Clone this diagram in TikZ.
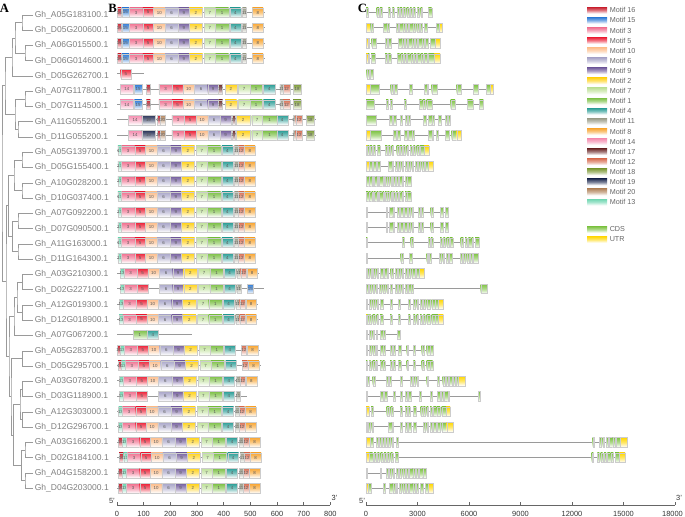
\documentclass[tikz,border=0pt]{standalone}
\usepackage{fontspec}
\setmainfont{Liberation Sans}
\newfontfamily\serifbf{Liberation Serif}
\usetikzlibrary{calc}
\definecolor{m16}{HTML}{C8202F}
\definecolor{m15}{HTML}{2E7BD6}
\definecolor{m3}{HTML}{F0708F}
\definecolor{m5}{HTML}{EC2238}
\definecolor{m10}{HTML}{FDBE8C}
\definecolor{m6}{HTML}{A9A6C9}
\definecolor{m9}{HTML}{76609F}
\definecolor{m2}{HTML}{FFD21A}
\definecolor{m7}{HTML}{BFE19A}
\definecolor{m1}{HTML}{7CC045}
\definecolor{m4}{HTML}{2A9D96}
\definecolor{m11}{HTML}{9B9C88}
\definecolor{m8}{HTML}{F8A531}
\definecolor{m14}{HTML}{F48CAF}
\definecolor{m17}{HTML}{6E2B2B}
\definecolor{m12}{HTML}{D87055}
\definecolor{m18}{HTML}{7F9C3B}
\definecolor{m19}{HTML}{283358}
\definecolor{m20}{HTML}{B58962}
\definecolor{m13}{HTML}{6ED6B0}
\definecolor{gc}{HTML}{7DC242}
\definecolor{gu}{HTML}{FFD700}
\definecolor{labgray}{HTML}{808080}
\definecolor{linegray}{HTML}{9A9A9A}
\tikzset{
  tree/.style={draw=linegray, line width=0.6pt},
  bb/.style={draw=linegray, line width=0.7pt},
  boxb/.style={draw=black!20, line width=0.25pt},
  glab/.style={anchor=west, inner sep=0pt, text=labgray, font=\fontsize{6.4}{7}\selectfont},
  mnum/.style={inner sep=0pt, text=black!65, font=\fontsize{3.3}{3.5}\selectfont},
  plet/.style={inner sep=0pt, font=\serifbf\bfseries\fontsize{9.5}{10}\selectfont},
  tick/.style={inner sep=0pt, text=black!80, font=\fontsize{5.6}{6}\selectfont},
  legt/.style={anchor=west, inner sep=0pt, text=black!60, font=\fontsize{5.4}{6}\selectfont},
  axl/.style={draw=black!60, line width=0.5pt}
}
\newcount\nc
\newcommand\mot[4]{%
  \pgfmathsetmacro\yy{12.5+15.35*((#1)-1)}%
  \pgfmathsetmacro\xa{117+0.2667*(#3)}%
  \pgfmathsetmacro\xb{117+0.2667*(#4)}%
  \shade[top color=m#2, bottom color=white, middle color=m#2!60] (\xa,{\yy-4.8}) rectangle (\xb,{\yy+4.8});
  \draw[boxb] (\xa,{\yy-4.8}) rectangle (\xb,{\yy+4.8});
  \global\advance\nc by 1
  \node[mnum] (t\the\nc) at ({(\xa+\xb)/2},\yy) {#2};
}
\newcommand\mrow[4]{%
  \pgfmathsetmacro\yy{12.5+15.35*((#1)-1)}%
  \draw[bb] (117,\yy) -- ({117+0.2667*(#3)},\yy);
  \foreach \mA/\mB/\mC in #4 {\mot{#1}{\mA}{\mB+#2}{\mC+#2}}%
}
\newcommand\exn[3]{%
  \pgfmathsetmacro\xa{360+(#2)/3}%
  \pgfmathsetmacro\xb{360+(#3)/3}%
  \shade[top color=#1, bottom color=white, middle color=#1!60] (\xa,{\yy-4.8}) rectangle (\xb,{\yy+4.8});
  \draw[boxb] (\xa,{\yy-4.8}) rectangle (\xb,{\yy+4.8});
}
\newcommand\grw[3]{%
  \pgfmathsetmacro\yy{12.5+15.35*((#1)-1)}%
  \draw[bb] (366,\yy) -- ({360+(#2)/3},\yy);
  \foreach \eT/\eA/\eB in #3 {\exn{g\eT}{\eA}{\eB}}%
}
\newcommand\tj[4]{%
  \path ($(#3)!0.5!(#4)$) coordinate (#1mid);
  \coordinate (#1) at (#2,0 |- #1mid);
  \draw[tree] (#3) -| (#1) |- (#4);
}
% motif lists
\def\stdl{13/3/17,3/17/67,5/67/107,10/107/150,6/150/200,9/200/241,2/241/291,7/297/339,1/339/389,4/393/434,11/440/455,12/455/476,8/478/518}
\def\stdn{16/-10/3,13/3/17,3/17/67,5/67/107,10/107/150,6/150/200,9/200/241,2/241/291,7/297/339,1/339/389,4/393/434,12/455/476,8/478/518}
\def\stdp{16/-14/3,13/3/17,3/17/67,5/67/107,10/107/150,6/150/200,9/200/241,2/241/291,7/297/339,1/339/389,4/393/434,11/440/455,12/455/476,8/478/518}
\def\rA{16/2/16,15/18/45,3/47/97,5/97/137,10/137/180,6/180/230,9/230/271,2/271/321,7/327/369,1/369/419,4/423/464,11/470/485,8/508/548}
\def\rB{5/14/52}
\def\rC{14/12/62,15/65/93,16/110/125,3/157/207,5/207/247,10/247/290,6/290/340,9/340/381,17/381/396,2/405/449,7/455/499,1/499/545,4/549/593,11/611/623,12/623/648,18/660/690}
\def\rD{14/43/93,19/93/143,16/150/163,20/163/180,3/206/252,5/252/297,10/297/341,6/341/387,9/387/428,17/432/444,2/448/498,7/505/545,1/545/599,4/599/640,11/661/670,12/670/695,18/710/739}
\def\rE{13/3/17,3/17/67,5/67/107,6/150/200,9/200/241,2/241/291,7/297/339,1/339/389,4/393/434,11/440/455,15/479/503}
\def\rF{1/60/112,4/112/156}
\def\rH{13/3/17,3/17/67,5/67/107,6/150/200,9/200/241,2/241/291,7/297/339,1/339/389,4/393/434,11/440/455}
% gene lists
\def\gA{c/18/24,c/50/57,c/60/67,c/85/90,c/97/102,c/112/118,c/120/126,c/130/136,c/140/146,c/150/155,c/160/165,c/172/177,c/182/187,c/205/215}
\def\gB{u/18/32,c/32/40,c/70/78,c/80/88,c/108/115,c/118/125,c/128/135,c/138/145,c/148/155,c/158/165,c/170/177,c/180/187,c/192/200,c/228/238,u/238/245}
\def\gC{u/18/24,c/24/28,c/35/48,c/75/82,c/85/92,c/115/122,c/125/132,c/135/142,c/145/152,c/155/162,c/165/172,c/175/182,c/185/192,c/195/205,c/210/225,u/225/240}
\def\gD{u/18/24,c/24/28,c/33/45,c/75/82,c/85/92,c/112/119,c/122/129,c/132/139,c/142/149,c/152/159,c/162/169,c/172/179,c/182/189,c/192/202,c/205/222,u/222/240}
\def\gE{c/20/28,c/30/40}
\def\gF{u/18/30,c/30/58,c/92/98,c/102/110,c/148/155,c/192/198,c/200/205,c/215/232,c/290/302,c/340/355,c/378/390,u/390/400}
\def\gG{c/18/42,c/78/85,c/90/97,c/132/138,c/178/185,c/188/195,c/200/215,c/272/285,c/322/338,c/358/370}
\def\gH{c/18/48,c/88/95,c/100/107,c/120/126,c/135/140,c/145/150,c/190/198,c/205/212,c/215/222,c/235/242,c/255/262,c/265/270}
\def\gI{u/18/30,c/30/62,c/100/108,c/112/120,c/133/140,c/145/152,c/155/162,c/205/212,c/215/220,c/228/235,c/255/268,c/275/290,u/290/303}
\def\gJ{u/18/22,c/22/28,c/30/36,c/40/46,c/52/60,c/75/82,c/85/90,c/95/100,c/110/118,c/120/126,c/130/135,c/140/145,c/150/155,c/160/165,c/170/178,c/180/192,u/192/207}
\def\gK{u/18/28,c/28/35,c/40/48,c/52/60,c/85/92,c/95/100,c/105/110,c/115/120,c/125/130,c/135/140,c/145/150,c/155/160,c/165/170,c/175/180,c/185/192,c/195/205,u/205/220}
\def\gL{c/18/24,c/26/32,c/35/40,c/42/47,c/50/55,c/58/65,c/68/72,c/75/80,c/82/88,c/92/97,c/100/104,c/108/113,c/118/122,c/125/130,c/135/140,c/142/152}
\def\gM{c/18/22,c/78/82,c/88/95,c/98/103,c/112/118,c/120/130,c/133/140,c/145/150,c/155/160,c/175/180,c/183/188,c/212/218,c/240/250,c/255/265}
\def\gN{c/18/22,c/127/133,c/152/160,c/205/210,c/213/218,c/240/245,c/250/255,c/260/268,c/270/278,c/302/310,c/315/320,c/325/332,c/335/340,c/345/358}
\def\gO{c/18/22,c/122/128,c/148/155,c/200/205,c/208/213,c/237/243,c/248/253,c/258/265,c/268/275,c/300/306,c/310/316,c/320/326,c/330/336,c/340/353}
\def\gP{u/18/22,c/22/28,c/32/36,c/40/45,c/50/55,c/60/68,c/72/78,c/80/85,c/92/98,c/105/110,c/115/120,c/125/130,c/135/142,c/145/150,c/155/165,c/168/178,u/178/192}
\def\gQ{c/18/24,c/28/33,c/38/43,c/47/52,c/57/62,c/68/75,c/80/85,c/90/95,c/105/110,c/115/120,c/125/130,c/135/140,c/145/150,c/152/158,c/362/382}
\def\gR{c/18/22,c/28/32,c/38/45,c/50/55,c/60/68,c/90/95,c/115/120,c/145/150,c/160/165,c/170/175,c/180/185,c/190/195,c/200/210,c/215/225,c/225/235,u/235/250}
\def\gS{u/18/22,c/22/26,c/28/32,c/38/45,c/50/55,c/60/68,c/90/95,c/115/120,c/145/150,c/160/165,c/170/175,c/180/185,c/190/195,c/200/210,c/215/225,c/225/235,u/235/250}
\def\gT{c/18/22,c/28/32,c/38/42,c/48/52,c/60/65,c/68/74,c/112/120}
\def\gU{c/18/22,c/28/32,c/38/45,c/48/52,c/60/65,c/68/74,c/90/95,c/100/106,c/115/122,c/140/145,c/160/165,c/185/192,c/200/210,c/210/218}
\def\gV{u/18/22,c/22/26,c/38/45,c/78/84,c/88/94,c/120/126,c/150/155,c/160/165,c/170/175,c/200/205,c/232/238,c/248/255,c/258/265,c/268/275,c/280/285,c/288/295,u/295/315}
\def\gW{c/18/22,c/60/68,c/72/80,c/100/106,c/120/126,c/135/142,c/145/152,c/178/184,c/210/216,c/232/240,c/243/250,c/253/260,c/263/268,c/355/360}
\def\gX{u/18/28,c/33/40,c/80/88,c/92/98,c/120/126,c/135/142,c/145/150,c/160/168,c/182/188,c/190/196,c/200/205,c/210/215,c/220/228,c/230/240,c/245/258,u/258/270}
\def\gY{u/18/22,c/25/30,c/35/40,c/85/92,c/95/100,c/120/126,c/135/140,c/145/152,c/160/168,c/190/196,c/200/205,c/210/215,c/220/228,c/232/240,c/245/260,u/260/280}
\def\gZ{u/18/30,c/30/40,c/48/55,c/58/63,c/66/72,c/76/82,c/85/90,c/95/100,c/108/115,c/698/703,c/718/724,c/728/733,c/738/745,c/748/755,c/758/765,c/768/780,u/780/800}
\def\gAA{u/18/28,c/28/38,c/42/48,c/52/58,c/62/68,c/72/78,c/82/88,c/92/98,c/105/115,c/695/700,c/712/718,c/722/728,c/732/738,c/742/750,c/752/760,c/765/778,u/778/795}
\def\gAB{c/18/22,c/60/64,c/78/84,c/88/94,c/98/102,c/108/115,c/118/124,c/128/135,c/138/145,c/148/155,c/158/165,c/168/175,c/178/185,c/188/198}
\def\gAC{u/18/24,c/24/32,c/70/76,c/88/95,c/98/104,c/108/112,c/118/124,c/128/134,c/138/145,c/148/155,c/158/165,c/168/175,c/180/190,c/195/205,u/205/218}
\begin{document}
\begin{tikzpicture}[x=0.75pt,y=-0.75pt]
\useasboundingbox (0,0) rectangle (685,517);
% panel letters
\node[plet] (pA) at (4.5,8.5) {A};
\node[plet] (pB) at (112.5,8.5) {B};
\node[plet] (pC) at (362.5,8.5) {C};
% labels and leaves
\foreach \nm [count=\i] in {A05G183100,D05G200600,A06G015500,D06G014600,D05G262700,A07G117800,D07G114500,A11G055200,D11G055200,A05G139700,D05G155400,A10G028200,D10G037400,A07G092200,D07G090500,A11G163000,D11G164300,A03G210300,D02G227100,A12G019300,D12G018900,A07G067200,A05G283700,D05G295700,A03G078200,D03G118900,A12G303000,D12G296700,A03G166200,D02G184100,A04G158200,D04G203000}{
  \coordinate (L\i) at (33,{15+15.27*(\i-1)});
  \node[glab] (lab\i) at (34.5,{15+15.27*(\i-1)}) {Gh\_\nm.1};
}
% tree
\tj{a}{22}{L1}{L2}
\tj{b}{25}{L3}{L4}
\tj{c}{15}{a}{b}
\tj{d}{12}{c}{L5}
\tj{e}{25}{L6}{L7}
\tj{f}{18}{L8}{L9}
\tj{g}{15}{e}{f}
\tj{h}{5}{d}{g}
\tj{i}{22}{L10}{L11}
\tj{j}{22}{L12}{L13}
\tj{k}{14}{i}{j}
\tj{l}{18}{L14}{L15}
\tj{m}{18}{L16}{L17}
\tj{n}{12.5}{l}{m}
\tj{o}{8.5}{k}{n}
\tj{p}{22.5}{L18}{L19}
\tj{q}{22.5}{L20}{L21}
\tj{r}{17}{p}{q}
\tj{s}{14}{r}{L22}
\tj{t}{22.5}{L23}{L24}
\tj{u}{22.5}{L25}{L26}
\tj{v}{22.5}{L27}{L28}
\tj{w}{20}{u}{v}
\tj{tx}{25}{L29}{L30}
\tj{ty}{25}{L31}{L32}
\tj{tz}{21.5}{tx}{ty}
\tj{ta}{13.3}{w}{tz}
\tj{tb}{11}{t}{ta}
\tj{tc}{9}{s}{tb}
\tj{td}{6}{o}{tc}
\tj{root}{2}{h}{td}
% panel B rows
\mrow{1}{0}{555}{\rA}
\mrow{2}{0}{555}{\rA}
\mrow{3}{0}{555}{\rA}
\mrow{4}{0}{555}{\rA}
\mrow{5}{0}{100}{\rB}
\mrow{6}{0}{693}{\rC}
\mrow{7}{0}{693}{\rC}
\mrow{8}{0}{745}{\rD}
\mrow{9}{0}{745}{\rD}
\mrow{10}{0}{523}{\stdl}
\mrow{11}{0}{523}{\stdl}
\mrow{12}{0}{523}{\stdl}
\mrow{13}{0}{523}{\stdl}
\mrow{14}{0}{523}{\stdl}
\mrow{15}{0}{523}{\stdl}
\mrow{16}{0}{523}{\stdl}
\mrow{17}{0}{523}{\stdl}
\mrow{18}{9}{532}{\stdl}
\mrow{19}{9}{551}{\rE}
\mrow{20}{5}{528}{\stdl}
\mrow{21}{5}{528}{\stdl}
\mrow{22}{0}{281}{\rF}
\mrow{23}{10}{535}{\stdn}
\mrow{24}{14}{539}{\stdn}
\mrow{25}{6}{529}{\stdl}
\mrow{26}{6}{486}{\rH}
\mrow{27}{3}{526}{\stdl}
\mrow{28}{3}{526}{\stdl}
\mrow{29}{18}{541}{\stdp}
\mrow{30}{22}{545}{\stdp}
\mrow{31}{18}{541}{\stdp}
\mrow{32}{18}{541}{\stdp}
% panel C rows
\grw{1}{215}{\gA}
\grw{2}{245}{\gB}
\grw{3}{240}{\gC}
\grw{4}{240}{\gD}
\grw{5}{40}{\gE}
\grw{6}{400}{\gF}
\grw{7}{370}{\gG}
\grw{8}{270}{\gH}
\grw{9}{303}{\gI}
\grw{10}{207}{\gJ}
\grw{11}{220}{\gK}
\grw{12}{152}{\gL}
\grw{13}{152}{\gL}
\grw{14}{265}{\gM}
\grw{15}{265}{\gM}
\grw{16}{358}{\gN}
\grw{17}{353}{\gO}
\grw{18}{192}{\gP}
\grw{19}{382}{\gQ}
\grw{20}{250}{\gR}
\grw{21}{250}{\gS}
\grw{22}{120}{\gT}
\grw{23}{218}{\gU}
\grw{24}{218}{\gU}
\grw{25}{315}{\gV}
\grw{26}{360}{\gW}
\grw{27}{270}{\gX}
\grw{28}{280}{\gY}
\grw{29}{800}{\gZ}
\grw{30}{795}{\gAA}
\grw{31}{198}{\gAB}
\grw{32}{218}{\gAC}
% axes
\coordinate (bx0) at (117,505);
\coordinate (bx1) at (330.4,505);
\draw[axl] (bx0) -- (bx1);
\foreach \v [count=\k] in {0,100,200,300,400,500,600,700,800}{
  \draw[axl] ({117+26.67*(\k-1)},505) -- ++(0,-3.5);
  \node[tick] (bt\k) at ({117+26.67*(\k-1)},513.5) {\v};
}
\node[tick] (b5) at (112,500.5) {5'};
\node[tick] (b3) at (334.5,497.5) {3'};
\coordinate (cx0) at (366,505);
\coordinate (cx1) at (675,505);
\draw[axl] (cx0) -- (cx1);
\foreach \v [count=\k] in {0,3000,6000,9000,12000,15000}{
  \draw[axl] ({366+51.5*(\k-1)},505) -- ++(0,-3.5);
  \node[tick] (ct\k) at ({366+51.5*(\k-1)},513.5) {\v};
}
\draw[axl] (675,505) -- ++(0,-3.5);
\node[tick] (ct7) at (672.5,513.5) {18000};
\node[tick] (c5) at (362,500.5) {5'};
\node[tick] (c3) at (679,497.5) {3'};
% legend
\foreach \m [count=\k from 0] in {16,15,3,5,10,6,9,2,7,1,4,11,8,14,17,12,18,19,20,13}{
  \pgfmathsetmacro\ly{10.3+10.1*\k}
  \shade[top color=m\m, bottom color=white, middle color=m\m!60] (587,{\ly-3.2}) rectangle (607,{\ly+3.2});
  \node[legt] (leg\m) at (609.5,\ly) {Motif \m};
}
\shade[top color=gc, bottom color=white, middle color=gc!60] (587,226.3) rectangle (607,232.7);
\node[legt] (legc) at (609.5,229.5) {CDS};
\shade[top color=gu, bottom color=white, middle color=gu!60] (587,236.3) rectangle (607,242.7);
\node[legt] (legu) at (609.5,239.5) {UTR};
\end{tikzpicture}
\end{document}
